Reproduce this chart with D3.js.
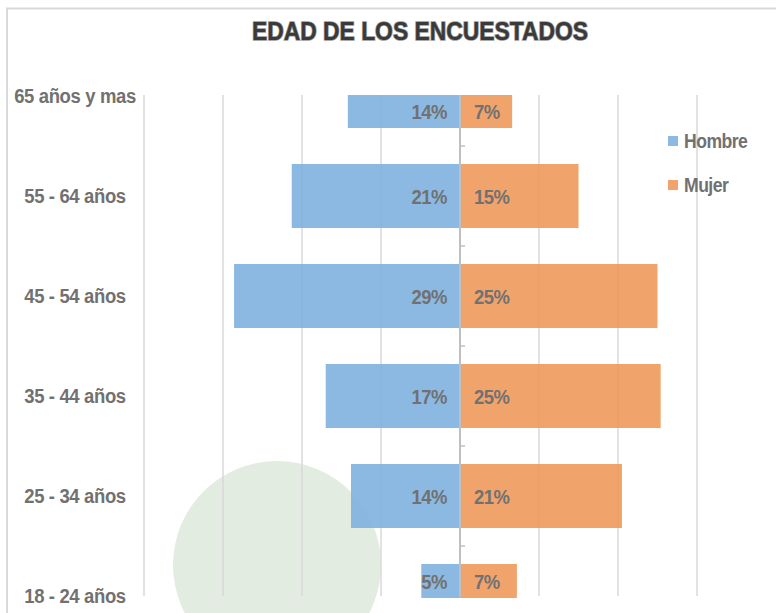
<!DOCTYPE html>
<html>
<head>
<meta charset="utf-8">
<script src="https://cdn.jsdelivr.net/npm/d3@7"></script>
<style>
  html, body { margin: 0; padding: 0; background: #fff; }
  svg { display: block; }
  text { font-family: "Liberation Sans", Arial, sans-serif; font-weight: bold; }
</style>
</head>
<body>
<div id="chart"></div>
<script>
// ---------- Data ----------
const ageGroups = ["65 años y mas", "55 - 64 años", "45 - 54 años", "35 - 44 años", "25 - 34 años", "18 - 24 años"];
const hombre = [14.2, 21.3, 28.6, 17.0, 13.8, 4.9];
const mujer  = [6.6, 15.0, 25.0, 25.4, 20.5, 7.2];
const seriesNames = ["Hombre", "Mujer"];
const gridTicks = [-40, -30, -20, -10, 10, 20, 30];

const width = 776, height = 613;
const plot = {left: 144, right: 697, top: 95, bottom: 597};
const colors = {Hombre: "#80b1df", Mujer: "#f0995c"};
const legendColors = {Hombre: "#8db9e2", Mujer: "#f2a36c"};
const labelColor = "#717171";
const narrow = 0.88; // no narrow font installed, squeeze horizontally

const svg = d3.select("#chart").append("svg")
  .attr("width", width).attr("height", height);

// chart border (only top and left are in frame)
svg.append("path")
  .attr("d", `M7,${height} V8.5 H${width}`)
  .attr("fill", "none").attr("stroke", "#d9d9d9").attr("stroke-width", 2);

// faded watermark circle
svg.append("circle")
  .attr("cx", 277).attr("cy", 565).attr("r", 104)
  .attr("fill", "#e2ece0");

// ---------- Scales ----------
const x = d3.scaleLinear().domain([-40, 30]).range([plot.left, plot.right]);
const y = d3.scalePoint().domain(ageGroups).range([96, 596]);
const barH = 64;

// visible part of a bar (first and last are cut by the plot frame)
const barTop = g => Math.max(plot.top, y(g) - barH / 2);
const barBot = g => Math.min(plot.bottom + 1, y(g) + barH / 2);
const barMid = g => (barTop(g) + barBot(g)) / 2;

// gridlines
svg.append("g")
  .selectAll("line")
  .data(gridTicks)
  .join("line")
  .attr("x1", d => x(d)).attr("x2", d => x(d))
  .attr("y1", plot.top).attr("y2", plot.bottom - 1)
  .attr("stroke", "#d9d9d9").attr("stroke-width", 1.5);

const rows = ageGroups.map((g, i) => ({group: g, h: hombre[i], m: mujer[i]}));

const bars = svg.append("g");

bars.selectAll("rect.h")
  .data(rows)
  .join("rect")
  .attr("class", "h")
  .attr("x", d => x(-d.h))
  .attr("y", d => barTop(d.group))
  .attr("width", d => x(0) - x(-d.h))
  .attr("height", d => barBot(d.group) - barTop(d.group))
  .attr("fill", colors.Hombre).attr("fill-opacity", 0.9);

bars.selectAll("rect.m")
  .data(rows)
  .join("rect")
  .attr("class", "m")
  .attr("x", x(0))
  .attr("y", d => barTop(d.group))
  .attr("width", d => x(d.m) - x(0))
  .attr("height", d => barBot(d.group) - barTop(d.group))
  .attr("fill", colors.Mujer).attr("fill-opacity", 0.9);

// center axis with ticks between categories
const axisX = x(0);
svg.append("line")
  .attr("x1", axisX).attr("x2", axisX)
  .attr("y1", plot.top).attr("y2", plot.bottom)
  .attr("stroke", "#bfbfbf").attr("stroke-width", 2);

const mids = d3.pairs(ageGroups).map(([a, b]) => (y(a) + y(b)) / 2);
svg.append("g")
  .selectAll("line")
  .data(mids)
  .join("line")
  .attr("x1", axisX).attr("x2", axisX + 5)
  .attr("y1", d => d).attr("y2", d => d)
  .attr("stroke", "#bfbfbf").attr("stroke-width", 1.5);

// value labels
const fmt = v => Math.round(v) + "%";
const labels = svg.append("g")
  .attr("font-size", 21).attr("fill", labelColor);

labels.selectAll("text.h")
  .data(rows)
  .join("text")
  .attr("class", "h")
  .attr("transform", d => `translate(${axisX - 13},${barMid(d.group)}) scale(${narrow},1)`)
  .attr("dy", "0.36em")
  .attr("text-anchor", "end")
  .attr("letter-spacing", -0.6)
  .text(d => fmt(d.h));

labels.selectAll("text.m")
  .data(rows)
  .join("text")
  .attr("class", "m")
  .attr("transform", d => `translate(${axisX + 14},${barMid(d.group)}) scale(${narrow},1)`)
  .attr("dy", "0.36em")
  .attr("letter-spacing", -0.6)
  .text(d => fmt(d.m));

// category labels
svg.append("g")
  .selectAll("text")
  .data(ageGroups)
  .join("text")
  .attr("transform", d => `translate(75,${y(d)}) scale(${narrow},1)`)
  .attr("dy", "0.35em")
  .attr("text-anchor", "middle")
  .attr("font-size", 21)
  .attr("fill", labelColor)
  .attr("letter-spacing", -0.4)
  .text(d => d);

// title
svg.append("text")
  .attr("transform", `translate(420,40) scale(${narrow},1)`)
  .attr("text-anchor", "middle")
  .attr("font-size", 26)
  .attr("fill", "#3a3a3a")
  .attr("stroke", "#9a9a9a").attr("stroke-width", 1.6)
  .attr("paint-order", "stroke")
  .text("EDAD DE LOS ENCUESTADOS");

// legend
const legend = svg.append("g")
  .selectAll("g")
  .data(seriesNames)
  .join("g")
  .attr("transform", (d, i) => `translate(668,${136 + i * 44})`);

legend.append("rect")
  .attr("width", 10).attr("height", 10)
  .attr("fill", d => legendColors[d]);

legend.append("text")
  .attr("transform", `translate(16,5) scale(${narrow},1)`)
  .attr("dy", "0.35em")
  .attr("font-size", 20)
  .attr("fill", labelColor)
  .attr("letter-spacing", -0.6)
  .text(d => d);
</script>
</body>
</html>
